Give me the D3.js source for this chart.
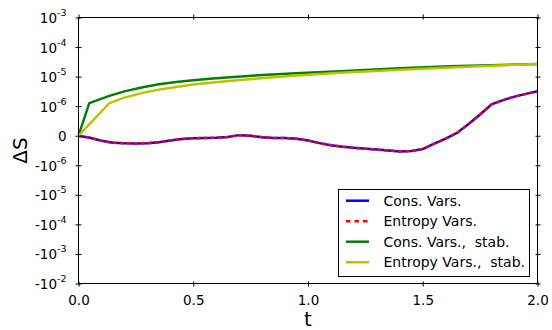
<!DOCTYPE html>
<html>
<head>
<meta charset="utf-8">
<script src="https://cdn.jsdelivr.net/npm/d3@7"></script>
<style>
  body { margin: 0; background: #fff; }
  text { font-family: "DejaVu Sans", sans-serif; white-space: pre; }
</style>
</head>
<body>
<div id="vis"></div>
<script>
// time samples + entropy change
var tCons = [0, 0.05, 0.1, 0.15, 0.2, 0.25, 0.3, 0.35, 0.4, 0.45, 0.5, 0.55, 0.6, 0.65, 0.7,
  0.75, 0.8, 0.85, 0.9, 0.95, 1.0, 1.05, 1.1, 1.15, 1.2, 1.25, 1.3, 1.35, 1.4, 1.45, 1.5,
  1.55, 1.6, 1.65, 1.7, 1.75, 1.8, 1.85, 1.9, 1.95, 2.0];
var consVars = [0, -7e-8, -1.7e-7, -2.35e-7, -2.55e-7, -2.6e-7, -2.55e-7, -2.2e-7, -1.6e-7,
  -1.1e-7, -8.5e-8, -7.5e-8, -7e-8, -4e-8, 2e-8, 0, -5e-8, -7.5e-8, -8e-8, -1e-7, -1.6e-7,
  -2.5e-7, -3.2e-7, -3.7e-7, -4.1e-7, -4.4e-7, -4.7e-7, -5e-7, -5.3e-7, -5.2e-7, -4.5e-7,
  -2.7e-7, -1e-7, 1e-7, 4e-7, 7.2e-7, 1.15e-6, 1.6e-6, 2.1e-6, 2.6e-6, 3.2e-6];
var entropyVars = [0, -7e-8, -1.7e-7, -2.35e-7, -2.55e-7, -2.6e-7, -2.55e-7, -2.2e-7, -1.6e-7,
  -1.1e-7, -8.5e-8, -7.5e-8, -7e-8, -4e-8, 2e-8, 0, -5e-8, -7.5e-8, -8e-8, -1e-7, -1.6e-7,
  -2.5e-7, -3.2e-7, -3.7e-7, -4.1e-7, -4.4e-7, -4.7e-7, -5e-7, -5.3e-7, -5.2e-7, -4.5e-7,
  -2.7e-7, -1e-7, 1e-7, 4e-7, 7.2e-7, 1.15e-6, 1.6e-6, 2.1e-6, 2.6e-6, 3.2e-6];

var tConsStab = [0, 0.047, 0.134, 0.2, 0.28, 0.35, 0.425, 0.5, 0.585, 0.675, 0.82, 0.97, 1.14, 1.4, 1.62, 2.0];
var consVarsStab = [0, 1.26e-6, 2.24e-6, 3.16e-6, 4.37e-6, 5.5e-6, 6.61e-6, 7.59e-6, 8.71e-6,
  9.77e-6, 1.15e-5, 1.32e-5, 1.51e-5, 1.91e-5, 2.24e-5, 2.69e-5];

var tEntStab = [0, 0.134, 0.2, 0.28, 0.35, 0.425, 0.5, 0.585, 0.68, 0.82, 0.97, 1.14, 1.4, 1.62, 2.0];
var entropyVarsStab = [0, 1.26e-6, 1.95e-6, 2.82e-6, 3.63e-6, 4.47e-6, 5.37e-6, 6.31e-6, 7.41e-6,
  9.12e-6, 1.12e-5, 1.35e-5, 1.7e-5, 2.04e-5, 2.69e-5];

var xTicks = [0, 0.5, 1.0, 1.5, 2.0];
var yTicks = [-1e-2, -1e-3, -1e-4, -1e-5, -1e-6, 0, 1e-6, 1e-5, 1e-4, 1e-3];
var yTickSign = ['-', '-', '-', '-', '-', '', '', '', '', ''];
var yTickExp = ['-2', '-3', '-4', '-5', '-6', '', '-6', '-5', '-4', '-3'];

var legendNames = ['Cons. Vars.', 'Entropy Vars.', 'Cons. Vars.,  stab.', 'Entropy Vars.,  stab.'];

var width = 552, height = 330;
var margin = { top: 17.5, bottom: 46.5, left: 78.5, right: 14.5 };
var w = width - margin.left - margin.right;
var h = height - margin.top - margin.bottom;

var svg = d3.select('#vis').append('svg')
  .attr('width', width)
  .attr('height', height);

var g = svg.append('g')
  .attr('transform', 'translate(' + margin.left + ',' + margin.top + ')');

// symlog with linthresh 1e-6 : one decade per unit
function dec(v) {
  var a = Math.abs(v);
  if (a <= 1e-6) return v / 1e-6;
  return Math.sign(v) * (Math.log10(a) + 7);
}

var x = d3.scaleLinear().domain([0, 2]).range([0, w]);
var yLin = d3.scaleLinear().domain([-5, 4]).range([h, 0]);

g.append('clipPath').attr('id', 'clip')
  .append('rect').attr('width', w).attr('height', h);

var series = [
  { t: tCons, v: consVars, color: '#0000ff', dash: null },
  { t: tCons, v: entropyVars, color: '#ff0000', dash: '4,3' },
  { t: tConsStab, v: consVarsStab, color: '#008000', dash: null },
  { t: tEntStab, v: entropyVarsStab, color: '#bfbf00', dash: null }
];

var line = d3.line()
  .x(function(d) { return x(d[0]); })
  .y(function(d) { return yLin(dec(d[1])); });

g.append('g').attr('clip-path', 'url(#clip)')
  .selectAll('path')
  .data(series)
  .enter()
  .append('path')
  .attr('d', function(s) { return line(d3.zip(s.t, s.v)); })
  .attr('fill', 'none')
  .attr('stroke', function(s) { return s.color; })
  .attr('stroke-width', 2.5)
  .attr('stroke-dasharray', function(s) { return s.dash; });

// frame
g.append('rect')
  .attr('width', w).attr('height', h)
  .attr('fill', 'none').attr('stroke', '#000').attr('stroke-width', 1);

// axes
var xb = g.append('g').attr('transform', 'translate(0,' + h + ')')
  .call(d3.axisBottom(x).tickValues(xTicks).tickFormat(d3.format('.1f')).tickSize(0).tickPadding(12));
xb.selectAll('line').attr('y1', -2).attr('y2', 3);

var xt = g.append('g')
  .call(d3.axisTop(x).tickValues(xTicks).tickFormat('').tickSize(0));
xt.selectAll('line').attr('y1', 2).attr('y2', -3);

var yl = g.append('g')
  .call(d3.axisLeft(yLin).tickValues(yTicks.map(dec)).tickFormat('').tickSize(0));
yl.selectAll('line').attr('x1', 3).attr('x2', -3);

var yr = g.append('g').attr('transform', 'translate(' + w + ',0)')
  .call(d3.axisRight(yLin).tickValues(yTicks.map(dec)).tickFormat('').tickSize(0));
yr.selectAll('line').attr('x1', -2).attr('x2', 3);

g.selectAll('.domain').remove();
g.selectAll('.tick line').attr('stroke', '#000').attr('stroke-width', 1);
xb.selectAll('text').attr('font-size', '13.5px').attr('fill', '#000')
  .style('font-family', '"DejaVu Sans", sans-serif');

// y tick labels with superscripts
yl.selectAll('.tick').each(function(d, i) {
  var txt = d3.select(this).append('text')
    .attr('x', -12).attr('y', 5)
    .attr('text-anchor', 'end')
    .attr('font-size', '13.5px')
    .attr('fill', '#000');
  if (yTickExp[i] === '') {
    txt.text('0');
  } else {
    txt.append('tspan').text(yTickSign[i] + '10');
    txt.append('tspan').attr('dy', -7).attr('font-size', '9.5px').text(yTickExp[i]);
  }
});

// axis titles
svg.append('text')
  .attr('x', margin.left + w / 2).attr('y', 326)
  .attr('text-anchor', 'middle')
  .attr('font-size', '20px')
  .text('t');

svg.append('text')
  .attr('transform', 'translate(27,' + (margin.top + h / 2) + ') rotate(-90)')
  .attr('text-anchor', 'middle')
  .attr('font-size', '20px')
  .text('ΔS');

// legend
var legend = svg.append('g').attr('transform', 'translate(338.5,189.5)');
legend.append('rect')
  .attr('width', 191).attr('height', 87)
  .attr('fill', '#fff').attr('stroke', '#000').attr('stroke-width', 1);

var items = legend.selectAll('.item')
  .data(series)
  .enter()
  .append('g')
  .attr('class', 'item')
  .attr('transform', function(d, i) { return 'translate(0,' + (11.2 + i * 20.5) + ')'; });

items.append('line')
  .attr('x1', 7.5).attr('x2', 30.5)
  .attr('stroke', function(d) { return d.color; })
  .attr('stroke-width', 2.5)
  .attr('stroke-dasharray', function(d) { return d.dash ? '4.5,4' : null; });

items.append('text')
  .attr('x', 45).attr('y', 5)
  .attr('font-size', '14px')
  .text(function(d, i) { return legendNames[i]; });
</script>
</body>
</html>
